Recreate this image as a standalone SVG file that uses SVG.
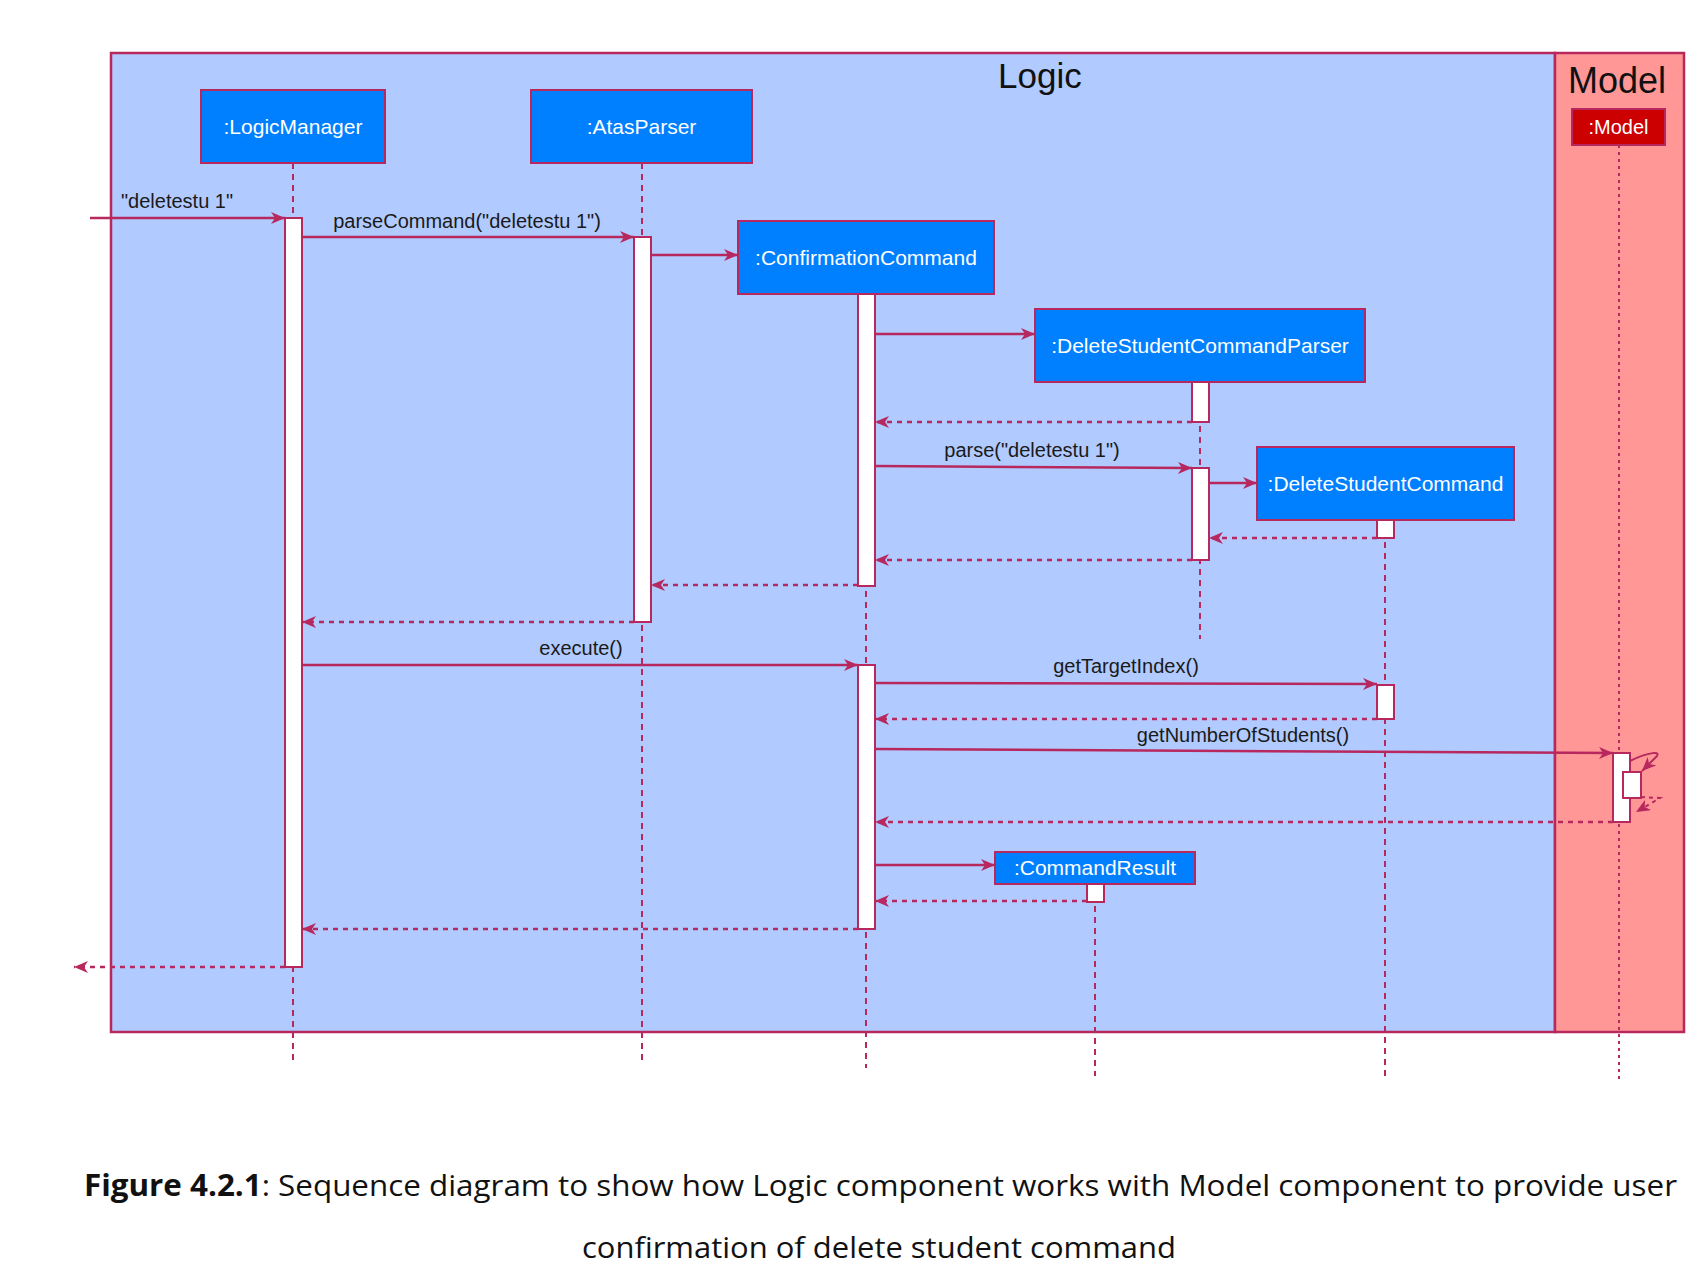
<svg xmlns="http://www.w3.org/2000/svg" width="1704" height="1278" viewBox="0 0 1704 1278">
<defs>
<marker id="ah" markerUnits="userSpaceOnUse" markerWidth="16" markerHeight="12" refX="14" refY="6" orient="auto">
<path d="M0,0 L14,6 L0,12 L4,6 z" fill="#B7285E"/>
</marker>
<style>
.frame{stroke:#B7285E;stroke-width:2.5}
.node{fill:#007FFF;stroke:#B7285E;stroke-width:2}
.ntext{font-family:"Liberation Sans",Arial,sans-serif;font-size:21px;fill:#FFFFFF;text-anchor:middle}
.life{stroke:#B7285E;stroke-width:2;stroke-dasharray:6 5;fill:none}
.bar{fill:#FFFFFF;stroke:#B7285E;stroke-width:2}
.msg{stroke:#B7285E;stroke-width:2.5;fill:none;marker-end:url(#ah)}
.ret{stroke:#B7285E;stroke-width:2.5;stroke-dasharray:5 5;fill:none;marker-end:url(#ah)}
.lbl{font-family:"Liberation Sans",Arial,sans-serif;font-size:20px;fill:#1a1a1a;text-anchor:middle}
.title{font-family:"Liberation Sans",Arial,sans-serif;font-size:36px;fill:#111111}
.cap{font-family:"Open Sans","Noto Sans",sans-serif;font-size:30px;fill:#111111}
</style>
</defs>
<rect width="1704" height="1278" fill="#FFFFFF"/>
<g id="frame-logic">
<rect class="frame" x="111" y="53" width="1444" height="979" fill="#B1CAFF"/>
<text class="title" x="998" y="88" style="font-size:35px">Logic</text>
</g>
<g id="frame-model">
<rect class="frame" x="1555" y="53" width="129" height="979" fill="#FF9797"/>
<text class="title" x="1617" y="93" style="text-anchor:middle">Model</text>
</g>
<g id="lifelines">
<line class="life" x1="293" y1="163" x2="293" y2="1060"/>
<line class="life" x1="642" y1="163" x2="642" y2="1060"/>
<line class="life" x1="866" y1="294" x2="866" y2="1068"/>
<line class="life" x1="1200" y1="382" x2="1200" y2="639"/>
<line class="life" x1="1385" y1="520" x2="1385" y2="1081"/>
<line class="life" x1="1095" y1="884" x2="1095" y2="1076"/>
<line class="life" x1="1619" y1="145" x2="1619" y2="1083" style="stroke-dasharray:3 4"/>
</g>
<g id="node-logicmanager">
<rect class="node" x="201" y="90" width="184" height="73"/>
<text class="ntext" x="293" y="134">:LogicManager</text>
<rect class="bar" x="285" y="218" width="17" height="749"/>
</g>
<g id="node-atasparser">
<rect class="node" x="531" y="90" width="221" height="73"/>
<text class="ntext" x="641.5" y="134">:AtasParser</text>
<rect class="bar" x="634" y="237" width="17" height="385"/>
</g>
<g id="node-confirmationcommand">
<rect class="node" x="738" y="221" width="256" height="73"/>
<text class="ntext" x="866" y="265">:ConfirmationCommand</text>
<rect class="bar" x="858" y="294" width="17" height="292"/>
<rect class="bar" x="858" y="665" width="17" height="264"/>
</g>
<g id="node-deletestudentcommandparser">
<rect class="node" x="1035" y="309" width="330" height="73"/>
<text class="ntext" x="1200" y="353">:DeleteStudentCommandParser</text>
<rect class="bar" x="1192" y="382" width="17" height="40"/>
<rect class="bar" x="1192" y="468" width="17" height="92"/>
</g>
<g id="node-deletestudentcommand">
<rect class="node" x="1257" y="447" width="257" height="73"/>
<text class="ntext" x="1385.5" y="491">:DeleteStudentCommand</text>
<rect class="bar" x="1377" y="520" width="17" height="18"/>
<rect class="bar" x="1377" y="685" width="17" height="34"/>
</g>
<g id="node-commandresult">
<rect class="node" x="995" y="852" width="200" height="32"/>
<text class="ntext" x="1095" y="875">:CommandResult</text>
<rect class="bar" x="1087" y="884" width="17" height="18"/>
</g>
<g id="node-model">
<rect x="1572" y="109" width="93" height="36" fill="#CC0000" stroke="#B7285E" stroke-width="2"/>
<text class="ntext" x="1618.5" y="134" style="font-size:20px">:Model</text>
<rect class="bar" x="1613" y="753" width="17" height="69"/>
<rect class="bar" x="1623" y="772" width="18" height="26"/>
</g>
<g id="connectors">
<line class="msg" x1="90" y1="218" x2="285" y2="218"/>
<text class="lbl" x="121" y="208" style="text-anchor:start">"deletestu 1"</text>
<line class="msg" x1="302" y1="237" x2="634" y2="237"/>
<text class="lbl" x="467" y="228">parseCommand("deletestu 1")</text>
<line class="msg" x1="651" y1="255" x2="738" y2="255"/>
<line class="msg" x1="875" y1="334" x2="1035" y2="334"/>
<line class="ret" x1="1192" y1="422" x2="875" y2="422"/>
<line class="msg" x1="875" y1="466" x2="1192" y2="468"/>
<text class="lbl" x="1032" y="457">parse("deletestu 1")</text>
<line class="msg" x1="1209" y1="483" x2="1257" y2="483"/>
<line class="ret" x1="1377" y1="538" x2="1209" y2="538"/>
<line class="ret" x1="1192" y1="560" x2="875" y2="560"/>
<line class="ret" x1="858" y1="585" x2="651" y2="585"/>
<line class="ret" x1="634" y1="622" x2="302" y2="622"/>
<line class="msg" x1="302" y1="665" x2="858" y2="665"/>
<text class="lbl" x="581" y="655">execute()</text>
<line class="msg" x1="875" y1="683" x2="1377" y2="684"/>
<text class="lbl" x="1126" y="673">getTargetIndex()</text>
<line class="ret" x1="1377" y1="719" x2="875" y2="719"/>
<line class="msg" x1="875" y1="749" x2="1613" y2="753"/>
<text class="lbl" x="1243" y="742">getNumberOfStudents()</text>
<path class="msg" style="stroke-width:2" d="M1630,761 C1648,752 1664,750 1655,758 L1642,771"/>
<path class="ret" style="stroke-width:2;stroke-dasharray:4 4" d="M1641,797 L1660,798 L1636,812"/>
<line class="ret" x1="1613" y1="822" x2="875" y2="822"/>
<line class="msg" x1="875" y1="865" x2="995" y2="865"/>
<line class="ret" x1="1087" y1="901" x2="875" y2="901"/>
<line class="ret" x1="858" y1="929" x2="302" y2="929"/>
<line class="ret" x1="285" y1="967" x2="74" y2="967"/>
</g>
<g id="caption">
<text class="cap" x="84" y="1196" textLength="1593" lengthAdjust="spacingAndGlyphs"><tspan font-weight="bold">Figure 4.2.1</tspan>: Sequence diagram to show how Logic component works with Model component to provide user</text>
<text class="cap" x="879" y="1258" style="text-anchor:middle" textLength="594" lengthAdjust="spacingAndGlyphs">confirmation of delete student command</text>
</g>
</svg>
